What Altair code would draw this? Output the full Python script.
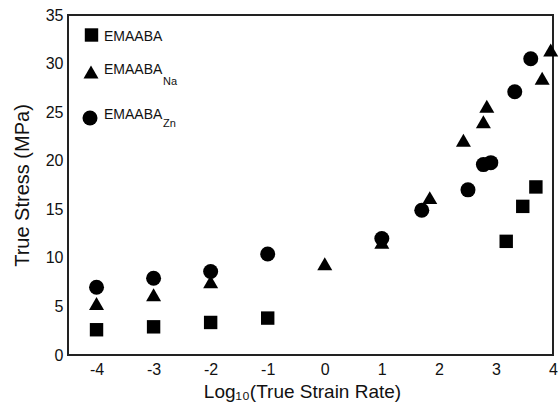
import altair as alt
import pandas as pd

# ---- data ----
sq_x = [-4, -3, -2, -1, 3.18, 3.47, 3.70]
sq_y = [2.6, 2.9, 3.35, 3.8, 11.7, 15.3, 17.3]

tri_x = [-4, -3, -2, 0, 1, 1.84, 2.43, 2.78, 2.84, 3.81, 3.96]
tri_y = [5.3, 6.2, 7.55, 9.4, 11.6, 16.2, 22.1, 24.0, 25.6, 28.5, 31.4]

cir_x = [-4, -3, -2, -1, 1, 1.70, 2.51, 2.78, 2.91, 3.33, 3.61]
cir_y = [6.97, 7.9, 8.6, 10.4, 12.0, 14.9, 17.0, 19.6, 19.8, 27.1, 30.5]

series_names = ["EMAABA", "EMAABA", "EMAABA"]
series_subs = ["", "Na", "Zn"]
x_ticks = [-4, -3, -2, -1, 0, 1, 2, 3, 4]
y_ticks = [0, 5, 10, 15, 20, 25, 30, 35]

FONT = "Liberation Sans"
INK = "#111111"

xscale = alt.Scale(domain=[-4.5, 4.0], nice=False, zero=False)
yscale = alt.Scale(domain=[0, 35], nice=False)

xaxis = alt.Axis(values=x_ticks, title="Log₁₀(True Strain Rate)", grid=False, ticks=False,
                 domain=False, labelFontSize=16, labelPadding=6, titleFontSize=19,
                 titlePadding=5, titleX=234, labelFont=FONT, titleFont=FONT, labelColor=INK,
                 titleColor=INK, titleFontWeight="normal", labelFlush=False,
                 labelExpr="datum.value + ''")
yaxis = alt.Axis(values=y_ticks, title="True Stress (MPa)", grid=False, ticks=False,
                 domain=False, labelFontSize=16, labelPadding=5, titleFontSize=20,
                 titleX=-36, labelFont=FONT, titleFont=FONT, labelColor=INK,
                 titleColor=INK, titleFontWeight="normal", labelFlush=False)


def pts(xs, ys, shape, size):
    df = pd.DataFrame({"x": xs, "y": ys})
    return alt.Chart(df).mark_point(shape=shape, size=size, filled=True, opacity=1,
                                    color="black", clip=False).encode(
        x=alt.X("x:Q", scale=xscale, axis=xaxis),
        y=alt.Y("y:Q", scale=yscale, axis=yaxis),
    )


squares = pts(sq_x, sq_y, "square", 180)
triangles = pts(tri_x, tri_y, "triangle-up", 225)
circles = pts(cir_x, cir_y, "circle", 225)

# ---- manual legend (with subscripts) ----
leg_shapes = ["square", "triangle-up", "circle"]
leg_sizes = [180, 225, 225]
sym_pos = [(23.5, 20), (23, 57), (22, 103)]
txt_pos = [(36, 22), (36, 55), (36, 100)]
sub_pos = [(95, 67), (95, 109)]

legend_layers = []
one = pd.DataFrame({"k": [0]})
for i in range(3):
    sx, sy = sym_pos[i]
    legend_layers.append(
        alt.Chart(one).mark_point(shape=leg_shapes[i], size=leg_sizes[i], filled=True,
                                  opacity=1, color="black").encode(
            x=alt.value(sx), y=alt.value(sy)))
    tx, ty = txt_pos[i]
    legend_layers.append(
        alt.Chart(pd.DataFrame({"t": [series_names[i]]})).mark_text(
            align="left", baseline="middle", font=FONT, fontSize=14, color=INK).encode(
            x=alt.value(tx), y=alt.value(ty), text="t:N"))
for j, s in enumerate([s for s in series_subs if s]):
    ux, uy = sub_pos[j]
    legend_layers.append(
        alt.Chart(pd.DataFrame({"t": [s]})).mark_text(
            align="left", baseline="middle", font=FONT, fontSize=11, color=INK).encode(
            x=alt.value(ux), y=alt.value(uy), text="t:N"))

chart = alt.layer(squares, triangles, circles, *legend_layers).properties(
    width=485, height=340,
    autosize=alt.AutoSizeParams(type="none"),
    padding={"left": 68, "top": 15, "right": 7, "bottom": 50},
    background="white",
).configure_view(stroke="#222222", strokeWidth=2)

chart.save("out.html", embed_options={"renderer": "svg", "actions": False})
